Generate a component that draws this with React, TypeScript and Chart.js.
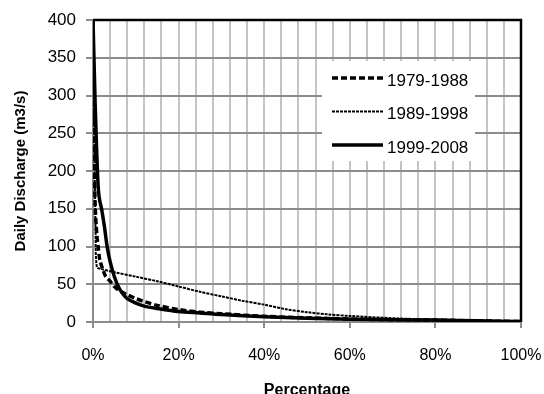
import React, { useEffect, useRef } from "react";
import { Chart, registerables } from "chart.js";

Chart.register(...registerables);

// Flow duration curves: percentage of time exceeded vs daily discharge
const SERIES_LABELS = ["1979-1988", "1989-1998", "1999-2008"];

const PCT_1979 = [0, 0.2, 0.5, 0.9, 1.2, 1.6, 2.4, 3, 4, 5, 6, 8, 10, 12, 15, 20, 25, 30, 40, 50, 60, 70, 80, 90, 100];
const FLOW_1979 = [400, 260, 155, 115, 100, 82, 68, 60, 54, 47, 42, 36, 31, 27, 22, 16.5, 13, 11, 7.5, 5.5, 4, 3, 2.5, 1.5, 0.5];

const PCT_1989 = [0, 0.3, 0.6, 0.9, 2, 5, 10, 15, 20, 25, 30, 35, 40, 45, 50, 55, 60, 70, 80, 90, 100];
const FLOW_1989 = [400, 250, 120, 73, 70, 66, 60, 54, 47, 40, 34, 28, 23, 17, 13, 10, 8, 5, 3, 2, 0.5];

const PCT_1999 = [0, 0.5, 1.0, 1.3, 1.6, 2, 2.7, 3.3, 4, 5, 6, 7, 8, 10, 12, 15, 20, 25, 30, 40, 50, 60, 70, 80, 90, 100];
const FLOW_1999 = [400, 290, 205, 172, 160, 150, 125, 100, 80, 60, 46, 37, 31, 25, 21, 18, 14, 12, 10, 7, 5, 3.5, 3, 2.5, 1.5, 0.5];

const Y_TICKS = [0, 50, 100, 150, 200, 250, 300, 350, 400];
const X_LABEL_STEP = 20;
const X_GRID_STEP = 4;

const FONT = "'Liberation Sans', Arial, sans-serif";

const toPoints = (xs: number[], ys: number[]) => xs.map((x, i) => ({ x, y: ys[i] }));

const frameAndLegend = {
  id: "frameAndLegend",
  beforeDatasetsDraw(chart: any) {
    const { ctx, chartArea } = chart;
    ctx.save();
    ctx.strokeStyle = "#000";
    ctx.lineWidth = 2.5;
    ctx.beginPath();
    ctx.moveTo(chartArea.left, chartArea.top);
    ctx.lineTo(chartArea.right, chartArea.top);
    ctx.lineTo(chartArea.right, chartArea.bottom);
    ctx.stroke();
    ctx.restore();
  },
  afterDatasetsDraw(chart: any) {
    const { ctx } = chart;
    const box = { x: 322, y: 61, w: 153, h: 100 };
    ctx.save();
    ctx.fillStyle = "#fff";
    ctx.fillRect(box.x, box.y, box.w, box.h);
    const rows = [81, 114.5, 148];
    chart.data.datasets.forEach((ds: any, i: number) => {
      const cy = rows[i];
      ctx.strokeStyle = ds.borderColor;
      ctx.lineWidth = ds.borderWidth;
      ctx.setLineDash(ds.borderDash || []);
      ctx.beginPath();
      ctx.moveTo(332, cy - 3);
      ctx.lineTo(383, cy - 3);
      ctx.stroke();
      ctx.setLineDash([]);
      ctx.fillStyle = "#000";
      ctx.font = `17px ${FONT}`;
      ctx.textBaseline = "middle";
      ctx.textAlign = "left";
      ctx.fillText(ds.label, 387, cy);
    });
    ctx.restore();
  },
};

export default function App() {
  const canvasRef = useRef<HTMLCanvasElement | null>(null);

  useEffect(() => {
    if (!canvasRef.current) return;
    const chart = new Chart(canvasRef.current, {
      type: "line",
      data: {
        datasets: [
          {
            label: SERIES_LABELS[0],
            data: toPoints(PCT_1979, FLOW_1979),
            borderColor: "#000",
            borderWidth: 3.5,
            borderDash: [6, 3],
            pointRadius: 0,
            tension: 0.3,
            fill: false,
          },
          {
            label: SERIES_LABELS[1],
            data: toPoints(PCT_1989, FLOW_1989),
            borderColor: "#000",
            borderWidth: 2,
            borderDash: [3, 1],
            pointRadius: 0,
            tension: 0.3,
            fill: false,
          },
          {
            label: SERIES_LABELS[2],
            data: toPoints(PCT_1999, FLOW_1999),
            borderColor: "#000",
            borderWidth: 3.5,
            pointRadius: 0,
            tension: 0.3,
            fill: false,
          },
        ],
      },
      options: {
        responsive: false,
        animation: false,
        devicePixelRatio: 1,
        layout: { padding: { top: 20, right: 23, left: 0, bottom: 0 } },
        plugins: { legend: { display: false }, tooltip: { enabled: false } },
        scales: {
          x: {
            type: "linear",
            min: 0,
            max: 100,
            afterFit: (s: any) => {
              s.height = 72;
              s.paddingLeft = 0;
              s.paddingRight = 0;
            },
            ticks: {
              stepSize: X_GRID_STEP,
              autoSkip: false,
              maxRotation: 0,
              padding: 18,
              color: "#000",
              font: { family: FONT, size: 16 },
              callback: (v: any) => (Number(v) % X_LABEL_STEP === 0 ? `${v}%` : ""),
            },
            grid: {
              color: "#c4c4c4",
              lineWidth: 2,
              tickLength: 6,
              tickWidth: 2,
              tickColor: (c: any) =>
                c.tick && c.tick.value % X_LABEL_STEP === 0 ? "#8c8c8c" : "rgba(0,0,0,0)",
            },
            border: { color: "#8c8c8c", width: 2 },
            title: {
              display: true,
              text: "Percentage",
              color: "#000",
              font: { family: FONT, size: 16, weight: "bold" },
              padding: { top: 0, bottom: -6 },
            },
          },
          y: {
            type: "linear",
            min: Y_TICKS[0],
            max: Y_TICKS[Y_TICKS.length - 1],
            afterFit: (s: any) => {
              s.width = 93;
              s.paddingTop = 0;
              s.paddingBottom = 0;
            },
            afterBuildTicks: (s: any) => {
              s.ticks = Y_TICKS.map((v) => ({ value: v }));
            },
            ticks: {
              padding: 10,
              color: "#000",
              font: { family: FONT, size: 17 },
            },
            grid: {
              color: "#8c8c8c",
              lineWidth: 2,
              tickLength: 7,
              tickWidth: 2,
              tickColor: "#8c8c8c",
            },
            border: { color: "#8c8c8c", width: 2 },
            title: {
              display: true,
              text: "Daily Discharge (m3/s)",
              color: "#000",
              font: { family: FONT, size: 15, weight: "bold" },
              padding: { top: 12, bottom: 0 },
            },
          },
        },
      },
      plugins: [frameAndLegend],
    } as any);
    return () => chart.destroy();
  }, []);

  return (
    <div style={{ position: "fixed", left: 0, top: 0, width: 544, height: 394, background: "#fff" }}>
      <canvas ref={canvasRef} width={544} height={394} style={{ width: 544, height: 394 }} />
    </div>
  );
}
